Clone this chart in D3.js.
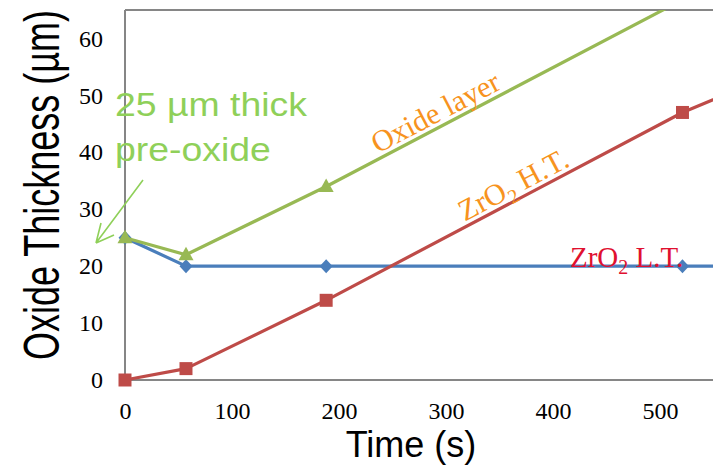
<!DOCTYPE html>
<html><head><meta charset="utf-8">
<script src="https://cdn.jsdelivr.net/npm/d3@7"></script>
<style>body{margin:0;background:#fff}
.tick text{font-family:'Liberation Serif','Times New Roman',serif !important;font-size:24px !important;fill:#000}</style>
</head><body><svg id="c" width="713" height="465"></svg>
<script>
// ---- data ----
const times = [0, 57, 188, 521, 750];
const ltValues = [25, 20, 20, 20, 20];          // ZrO2 L.T.
const htValues = [0, 2, 14, 47, 64.8];          // ZrO2 H.T.
const oxideValues = [25, 22, 34, 66.8, 89];     // Oxide layer
const xTicks = [0, 100, 200, 300, 400, 500];
const yTicks = [0, 10, 20, 30, 40, 50, 60];

const svg = d3.select("#c");
const W = 713, H = 465;
const x = d3.scaleLinear().domain([0, 600]).range([125, 125 + 642]);
const y = d3.scaleLinear().domain([0, 65]).range([380, 10]);

const axisColor = "#868686";
const serif = "'Liberation Serif','Times New Roman',serif";
const sans = "'Liberation Sans',Arial,sans-serif";

// frame top line
svg.append("line").attr("x1", x(0)).attr("x2", W).attr("y1", y(65)).attr("y2", y(65))
  .attr("stroke", axisColor).attr("stroke-width", 2);

// axes
const gx = svg.append("g").attr("transform", `translate(0,${y(0)})`)
  .call(d3.axisBottom(x).tickValues(xTicks).tickSize(0).tickSizeOuter(0).tickPadding(22).tickFormat(d3.format("d")));
const gy = svg.append("g").attr("transform", `translate(${x(0)},0)`)
  .call(d3.axisLeft(y).tickValues(yTicks).tickSize(0).tickSizeOuter(0).tickPadding(22).tickFormat(d3.format("d")));
[gx, gy].forEach(g => {
  g.attr("font-family", serif).attr("font-size", 24);
  g.select(".domain").attr("stroke", axisColor).attr("stroke-width", 2);
  g.selectAll("text").style("font-family", serif).style("font-size", "24px").attr("fill", "#000");
});
gx.select(".domain").attr("d", `M${x(0)},0H${W}`);
gy.select(".domain").attr("d", `M0,${y(0)}V${y(65)}`);

// clip
svg.append("clipPath").attr("id", "pc").append("rect")
  .attr("x", 100).attr("y", y(65)).attr("width", 700).attr("height", 400);
const plot = svg.append("g").attr("clip-path", "url(#pc)");

const series = [
  { name: "lt", vals: ltValues, color: "#4a7ebb", marker: "diamond" },
  { name: "ht", vals: htValues, color: "#be4b48", marker: "square" },
  { name: "ox", vals: oxideValues, color: "#98b954", marker: "triangle" }
];
const line = d3.line().x(d => x(d[0])).y(d => y(d[1]));
const markerPath = {
  diamond: "M0,-7L6.5,0L0,7L-6.5,0Z",
  square: "M-6.5,-6.5H6.5V6.5H-6.5Z",
  triangle: "M0,-8L7.5,5.5H-7.5Z"
};
series.forEach(s => {
  const pts = times.map((t, i) => [t, s.vals[i]]);
  plot.append("path").attr("d", line(pts)).attr("fill", "none")
    .attr("stroke", s.color).attr("stroke-width", 3.2).attr("stroke-linejoin", "round");
  plot.selectAll(null).data(pts).enter().append("path")
    .attr("transform", d => `translate(${x(d[0])},${y(d[1])})`)
    .attr("d", markerPath[s.marker]).attr("fill", s.color);
});

// rotated labels along lines
function labelAlong(vals, i0, px, txtParts, color, size, off) {
  const x0 = x(times[i0]), y0 = y(vals[i0]), x1 = x(times[i0 + 1]), y1 = y(vals[i0 + 1]);
  const ang = Math.atan2(y1 - y0, x1 - x0) * 180 / Math.PI;
  const t = (px - x0) / (x1 - x0);
  const py = y0 + t * (y1 - y0);
  const tx = svg.append("text")
    .attr("transform", `translate(${px},${py}) rotate(${ang})`)
    .attr("y", -off).attr("font-family", serif).attr("font-size", size).attr("fill", color);
  txtParts(tx);
}
labelAlong(oxideValues, 2, 380, tx => tx.text("Oxide layer"), "#f7931e", 30, 5);
labelAlong(htValues, 2, 467, tx => {
  tx.append("tspan").text("ZrO");
  tx.append("tspan").text("2").attr("font-size", 20).attr("dy", 7);
  tx.append("tspan").text(" H.T.").attr("dy", -7);
}, "#f7931e", 30, 5);

// horizontal L.T. label
const lt = svg.append("text").attr("x", 570).attr("y", 267)
  .attr("font-family", serif).attr("font-size", 29).attr("fill", "#e0102f");
lt.append("tspan").text("ZrO");
lt.append("tspan").text("2").attr("font-size", 20).attr("dy", 7);
lt.append("tspan").text(" L.T.").attr("dy", -7);

// pre-oxide annotation
const green = "#8fd059";
const ann = svg.append("text").attr("transform", "translate(115,116) scale(1.1,1)")
  .attr("font-family", sans).attr("font-size", 34).attr("fill", green);
ann.append("tspan").attr("x", 0).attr("y", 0).text("25 µm thick");
ann.append("tspan").attr("x", 0).attr("y", 45).text("pre-oxide");
svg.append("path").attr("d", "M143,180L96,243M96,243L114,235M96,243L101,223")
  .attr("stroke", green).attr("stroke-width", 1.6).attr("fill", "none");

// axis titles
svg.append("text").attr("transform", "translate(59,185) rotate(-90) scale(1,1.4)")
  .attr("text-anchor", "middle").attr("font-family", sans).attr("font-size", 36)
  .attr("fill", "#000").text("Oxide Thickness (µm)");
svg.append("text").attr("x", 411).attr("y", 457).attr("text-anchor", "middle")
  .attr("font-family", sans).attr("font-size", 36).attr("fill", "#000").text("Time (s)");
</script></body></html>
